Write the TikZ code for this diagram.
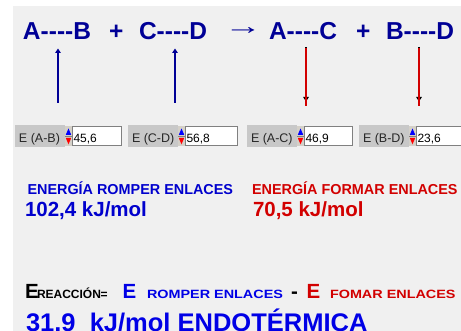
\documentclass[tikz,border=0pt]{standalone}
\usepackage{fontspec}
\usepackage{graphicx}
\setmainfont[Ligatures=TeXOff]{Liberation Sans}
\usetikzlibrary{arrows.meta}
\newcommand\fs[1]{\fontsize{#1}{#1}\selectfont}
\definecolor{bg}{RGB}{240,240,240}
\definecolor{navy}{RGB}{0,0,150}
\definecolor{eblue}{RGB}{0,0,205}
\definecolor{bblue}{RGB}{0,0,230}
\definecolor{ered}{RGB}{210,0,0}
\definecolor{lblgray}{RGB}{200,200,200}
\definecolor{spgray}{RGB}{212,208,200}
\definecolor{fieldborder}{RGB}{128,128,128}
\tikzset{
  txt/.style={anchor=base west, inner sep=0pt, outer sep=0pt},
  eq/.style={txt, font=\fs{24.5}\bfseries, text=navy},
  lbltxt/.style={txt, font=\fs{12.5}, text=black!85},
  valtxt/.style={txt, font=\fs{12}, text=black},
  lblbox/.style={fill=lblgray, inner sep=0pt, minimum width=50pt, minimum height=22pt, anchor=north west},
  fieldbox/.style={fill=white, draw=fieldborder, line width=0.8pt},
  uparrow/.style={draw=navy, line width=2pt, -{Triangle[width=5.5pt,length=4.5pt]}},
  downouter/.style={draw=black, line width=2.6pt, -{Triangle[width=5.5pt,length=4.5pt]}},
  downinner/.style={draw=ered, line width=1.3pt},
}
\begin{document}
\begin{tikzpicture}[x=1pt,y=-1pt]
\useasboundingbox (0,0) rectangle (461,331);
\clip (0,0) rectangle (461,331);
\fill[white] (0,0) rectangle (461,331);
\fill[bg] (13,6) rectangle (461,331);

% equation
\node[eq] (ab) at (23,39.5) {A----B};
\node[eq] (p1) at (109,39.5) {+};
\node[eq] (cd) at (139,39.5) {C----D};
\node[txt, font=\fs{24.5}, text=navy] (to) at (224,35) {\scalebox{1.55}[1]{→}};
\node[eq] (ac) at (269,39.5) {A----C};
\node[eq] (p2) at (356,39.5) {+};
\node[eq] (bd) at (386,39.5) {B----D};

% spinner widgets
\foreach \x/\lab/\val/\nm/\fe in {15/{E (A-B)}/{45,6}/wab/121, 128/{E (C-D)}/{56,8}/wcd/237, 247/{E (A-C)}/{46,9}/wac/352, 359/{E (B-D)}/{23,6}/wbd/462}{
  \node[lblbox] (lab-\nm) at (\x,125) {};
  \node[lbltxt] (labt-\nm) at (\x+4,143) {\lab};
  \fill[spgray] (\x+50,126) rectangle (\x+57,146);
  \draw[fieldborder, line width=0.5pt] (\x+50,136.3) -- (\x+57,136.3);
  \fill[blue] (\x+50.8,134.8) -- (\x+56.2,134.8) -- (\x+53.5,128.5) -- cycle;
  \fill[red] (\x+50.8,138) -- (\x+56.2,138) -- (\x+53.5,144.3) -- cycle;
  \draw[fieldbox] (\x+57.5,126.5) rectangle (\fe,145.5);
  \node[valtxt] (val-\nm) at (\x+58.5,142.5) {\val};
}

% arrows
\coordinate (ab-low) at (58,103);
\coordinate (ab-up) at (58,48.5);
\coordinate (cd-low) at (175,103);
\coordinate (cd-up) at (175,48.5);
\coordinate (ac-up) at (306,47);
\coordinate (ac-low) at (306,101.5);
\coordinate (bd-up) at (419,47);
\coordinate (bd-low) at (419,101.5);
\draw[uparrow] (ab-low) -- (ab-up);
\draw[uparrow] (cd-low) -- (cd-up);
\draw[downouter] (ac-up) -- (ac-low);
\draw[downouter] (bd-up) -- (bd-low);
\draw[downinner] ([yshift=-0.6pt]ac-up) -- ([yshift=-5pt]ac-low);
\draw[downinner] ([yshift=-0.6pt]bd-up) -- ([yshift=-5pt]bd-low);

% energies
\node[txt, font=\fs{14.4}\bfseries, text=eblue] (er) at (27.5,195) {ENERGÍA ROMPER ENLACES};
\node[txt, font=\fs{20.5}\bfseries, text=eblue] (erv) at (25,217) {102,4 kJ/mol};
\node[txt, font=\fs{14.4}\bfseries, text=ered] (ef) at (252,195) {ENERGÍA FORMAR ENLACES};
\node[txt, font=\fs{20.5}\bfseries, text=ered] (efv) at (253,217) {70,5 kJ/mol};

% reaction formula
\node[txt, font=\fs{20.5}\bfseries, text=black] (e0) at (25,298.5) {E};
\node[txt, font=\fs{12}\bfseries, text=black] (reac) at (37,298.5) {REACCIÓN};
\node[txt, font=\fs{12}\bfseries, text=black] (eqs) at (100.5,298.5) {=};
\node[txt, font=\fs{20.5}\bfseries, text=bblue] (e1) at (122.5,298.5) {E};
\node[txt, font=\fs{12}\bfseries, text=bblue] (rom) at (147,298.5) {\scalebox{1.2}[1]{ROMPER ENLACES}};
\node[txt, font=\fs{20.5}\bfseries, text=black] (minus) at (291,298.5) {-};
\node[txt, font=\fs{20.5}\bfseries, text=ered] (e2) at (306.5,298.5) {E};
\node[txt, font=\fs{12}\bfseries, text=ered] (fom) at (330,298.5) {\scalebox{1.2}[1]{FOMAR ENLACES}};
\node[txt, font=\fs{25.5}\bfseries, text=bblue] (res) at (26,331.5) {31.9\ \ kJ/mol ENDOTÉRMICA};
\end{tikzpicture}
\end{document}
